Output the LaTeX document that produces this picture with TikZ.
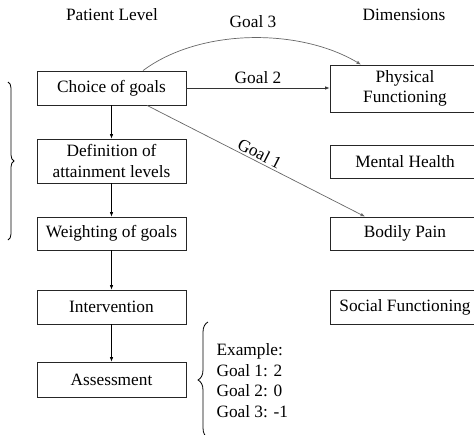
\documentclass[tikz,border=0pt]{standalone}
\usepackage{fontspec}
\setmainfont{Liberation Serif}
\usetikzlibrary{arrows.meta,decorations.pathreplacing,calc}
\begin{document}
\begin{tikzpicture}[x=1pt,y=-1pt,
  font=\fontsize{17.3}{20.7}\selectfont,
  box/.style={draw=black!85,line width=0.8pt,align=center,inner sep=0pt},
  lbox/.style={box,minimum width=149pt},
  rbox/.style={box,minimum width=150pt},
  arr/.style={line width=0.7pt,-{Latex[length=4.5pt,width=3.5pt]}},
  garr/.style={arr,draw=black!60},
  lbl/.style={inner sep=1pt}]
\useasboundingbox (0,0) rectangle (474,434);
\node (hl) at (112,15) {Patient Level};
\node (hd) at (404,15) {Dimensions};
\node[lbox,minimum height=34pt] (choice) at (111.5,88) {Choice of goals};
\node[lbox,minimum height=44pt] (def) at (111.5,161) {Definition of\\attainment levels};
\node[lbox,minimum height=33pt] (weight) at (111.5,233.5) {Weighting of goals};
\node[lbox,minimum height=34pt] (interv) at (111.5,307) {Intervention};
\node[lbox,minimum height=35pt] (assess) at (111.5,379.5) {Assessment};
\node[rbox,minimum height=47pt] (phys) at (405,88.5) {Physical\\Functioning};
\node[rbox,minimum height=33pt] (mental) at (405,161.5) {Mental Health};
\node[rbox,minimum height=33pt] (pain) at (405,233.5) {Bodily Pain};
\node[rbox,minimum height=34pt] (social) at (405,307) {Social Functioning};
\draw[arr] (choice) -- (def);
\draw[arr] (def) -- (weight);
\draw[arr] (weight) -- (interv);
\draw[arr] (interv) -- (assess);
\draw[arr,draw=black!80] (choice.east) -- node[lbl,above=3pt] (g2) {Goal 2} (phys.west |- choice.east);
\coordinate (g3s) at ($(choice.north)+(31.5,0)$);
\coordinate (g3e) at ($(phys.north)+(-44,0)$);
\draw[garr] (g3s) .. controls (200,28) and (300,28) .. (g3e);
\node (g3) at (253,22) {Goal 3};
\coordinate (g1s) at ($(choice.south)+(35.5,0)$);
\coordinate (g1e) at ($(pain.north)+(-40,0)$);
\draw[garr] (g1s) -- node[lbl,midway,above=1pt,sloped] (g1) {Goal 1} (g1e);
\draw[line width=0.8pt,decorate,decoration={brace,amplitude=6pt}] (8,82) -- (8,240);
\draw[line width=0.8pt,decorate,decoration={brace,amplitude=10pt}] (208,438) -- (208,322);
\node[anchor=west,align=left] (ex) at (213,380.5) {Example:\\Goal 1: 2\\Goal 2: 0\\Goal 3: -1};
\end{tikzpicture}
\end{document}
